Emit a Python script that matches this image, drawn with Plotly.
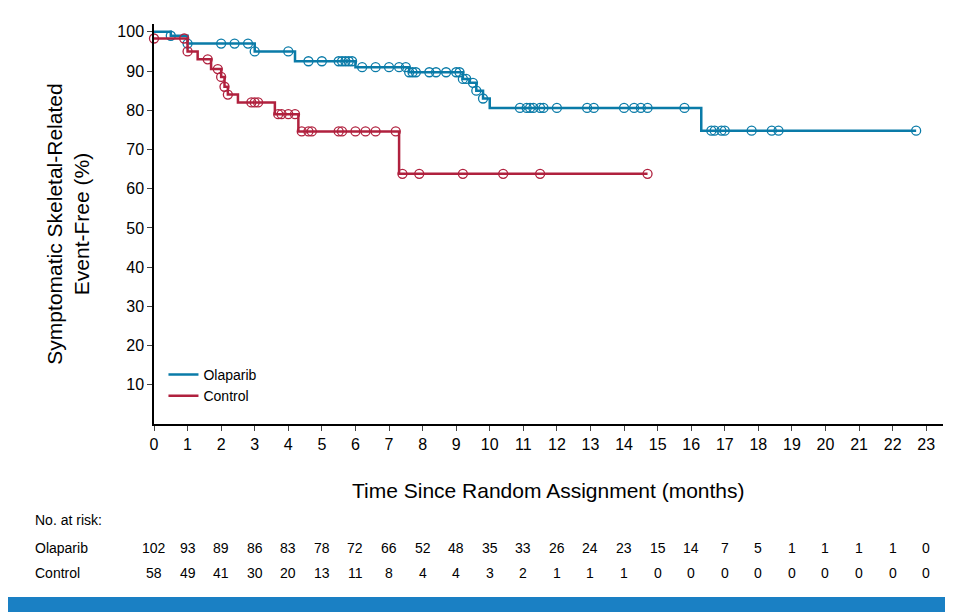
import plotly.graph_objects as go

# Kaplan-Meier step points (time in months, % event-free)
ola_t = [0, 0.5, 1.0, 3.0, 4.2, 6.0, 7.6, 9.2, 9.4, 9.6, 9.8, 10.0, 16.3, 22.7]
ola_s = [100, 99, 97, 95, 92.5, 91, 89.7, 88, 87, 85, 83, 80.6, 74.8, 74.8]
ola_ct = [0.5, 1.0, 2.0, 2.4, 2.8, 3.0, 4.0, 4.6, 5.0, 5.5, 5.6, 5.7, 5.8, 5.9, 6.2, 6.6, 7.0,
          7.3, 7.5, 7.6, 7.7, 7.8, 8.2, 8.4, 8.7, 9.0, 9.1, 9.2, 9.3, 9.5, 9.6, 9.8,
          10.9, 11.1, 11.2, 11.3, 11.5, 11.6, 12.0, 12.9, 13.1, 14.0, 14.3, 14.5, 14.7,
          15.8, 16.6, 16.7, 16.9, 17.0, 17.8, 18.4, 18.6, 22.7]

ctl_t = [0, 1.0, 1.3, 1.7, 2.0, 2.1, 2.2, 2.5, 3.6, 4.3, 7.3, 14.7]
ctl_s = [98.3, 95, 93, 90.5, 88.5, 86, 84, 82, 79, 74.6, 63.8, 63.8]
ctl_ct = [0, 0.9, 1.0, 1.6, 1.9, 2.0, 2.1, 2.2, 2.9, 3.0, 3.1, 3.7, 3.8, 4.0, 4.2,
          4.4, 4.6, 4.7, 5.5, 5.6, 6.0, 6.3, 6.6, 7.2, 7.4, 7.9, 9.2, 10.4, 11.5, 14.7]

months = list(range(24))
ola_risk = [102, 93, 89, 86, 83, 78, 72, 66, 52, 48, 35, 33, 26, 24, 23, 15, 14, 7, 5, 1, 1, 1, 1, 0]
ctl_risk = [58, 49, 41, 30, 20, 13, 11, 8, 4, 4, 3, 2, 1, 1, 1, 0, 0, 0, 0, 0, 0, 0, 0, 0]

BLUE = '#0a7ba8'
RED = '#b0213e'
PW = 789.0


def surv_at(ts, ss, x):
    v = ss[0]
    for t, s in zip(ts, ss):
        if t <= x:
            v = s
    return v


fig = go.Figure()
for name, ts, ss, cts, col in [('Olaparib', ola_t, ola_s, ola_ct, BLUE),
                               ('Control', ctl_t, ctl_s, ctl_ct, RED)]:
    fig.add_trace(go.Scatter(x=ts, y=ss, mode='lines', name=name,
                             line=dict(color=col, width=2.5, shape='hv')))
    fig.add_trace(go.Scatter(x=cts, y=[surv_at(ts, ss, c) for c in cts], mode='markers',
                             showlegend=False, hoverinfo='skip', cliponaxis=False,
                             marker=dict(symbol='circle-open', size=9, color=col,
                                         line=dict(width=1.3, color=col))))

annots = [dict(text='No. at risk:', x=-121 / PW, y=-0.265, xref='paper', yref='paper',
               xanchor='left', showarrow=False, font=dict(size=14))]
for label, risk, yy in [('Olaparib', ola_risk, -0.335), ('Control', ctl_risk, -0.3975)]:
    annots.append(dict(text=label, x=-121 / PW, y=yy, xref='paper', yref='paper',
                       xanchor='left', showarrow=False, font=dict(size=14)))
    for m, r in zip(months, risk):
        annots.append(dict(text=str(r), x=m, y=yy, xref='x', yref='paper',
                           showarrow=False, font=dict(size=14)))
annots.append(dict(text='Time Since Random Assignment (months)', x=0.5, y=-0.20,
                   xref='paper', yref='paper', showarrow=False, font=dict(size=21)))

fig.update_layout(
    width=945, height=604,
    margin=dict(l=146, r=10, t=16, b=188, autoexpand=False),
    plot_bgcolor='white', paper_bgcolor='white',
    font=dict(family='Liberation Sans, Arial', color='black'),
    xaxis=dict(range=[0, 23.5], tickvals=months, showline=True, linecolor='black',
               linewidth=1.5, ticks='outside', ticklen=5, tickfont=dict(size=16),
               showgrid=False, zeroline=False, automargin=False),
    yaxis=dict(range=[0, 102], tickvals=list(range(10, 101, 10)), showline=True,
               linecolor='black', linewidth=1.5, ticks='outside', ticklen=5,
               tickfont=dict(size=16), showgrid=False, zeroline=False, automargin=False,
               title=dict(text='Symptomatic Skeletal-Related<br>Event-Free (%)',
                          font=dict(size=21), standoff=22)),
    legend=dict(x=0.012, y=0.03, xanchor='left', yanchor='bottom',
                font=dict(size=14), bgcolor='rgba(0,0,0,0)'),
    annotations=annots,
    shapes=[dict(type='rect', xref='paper', yref='paper', x0=-154 / PW, x1=1 + 20 / PW,
                 y0=-0.48, y1=-0.4325, fillcolor='#1a80c4', line=dict(width=0))],
)

fig.write_html('out.html')
